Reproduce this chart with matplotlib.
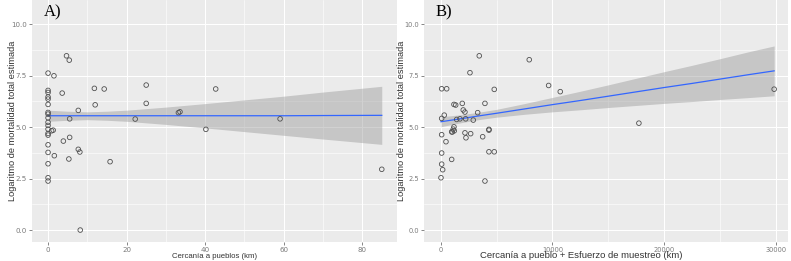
import numpy as np
import matplotlib.pyplot as plt

# Panel A: cercania a pueblos (km) vs log mortalidad
dist_a = [0, 0, 0, 0, 0, 0, 0, 0, 0, 0, 0, 0, 0, 0, 0, 0, 0, 0, 0,
          1.5, 4.7, 5.4, 3.6, 11.8, 14.3, 12.0, 7.7, 5.5, 25.0, 25.0, 22.2,
          33.2, 33.6, 42.7, 59.1, 40.2, 0.9, 1.3, 3.9, 5.5, 1.6, 7.7, 8.1,
          5.3, 15.8, 8.2, 85.0]
mort_a = [7.62, 6.78, 6.68, 6.46, 6.36, 6.10, 5.71, 5.63, 5.45, 5.23, 5.08,
          4.90, 4.69, 4.61, 4.14, 3.77, 3.22, 2.54, 2.38,
          7.49, 8.46, 8.25, 6.65, 6.88, 6.85, 6.08, 5.81, 5.40, 7.04, 6.15, 5.39,
          5.70, 5.74, 6.85, 5.40, 4.89, 4.82, 4.85, 4.32, 4.50, 3.61, 3.92, 3.79,
          3.45, 3.32, 0.00, 2.95]

# lm fit + 95% band
fit_x_a = [0, 5, 10, 15, 20, 30, 40, 50, 60, 70, 85]
fit_a = [5.55, 5.55, 5.55, 5.55, 5.55, 5.55, 5.55, 5.55, 5.55, 5.56, 5.57]
lo_a = [5.28, 5.33, 5.36, 5.33, 5.28, 5.13, 4.96, 4.78, 4.60, 4.42, 4.16]
hi_a = [5.82, 5.77, 5.74, 5.77, 5.82, 5.97, 6.14, 6.32, 6.50, 6.70, 6.98]

# Panel B: cercania a pueblo + esfuerzo de muestreo (km)
dist_b = [89, 537, 3453, 2621, 7925, 9660, 10700, 4794, 1190, 1342, 1932,
          3962, 2020, 2170, 3310, 322, 89, 1431, 1726, 2236, 2916, 1190,
          4320, 17737, 29840, 1127, 1038, 89, 2174, 2683, 2263, 3757, 4320,
          474, 89, 984, 4320, 4794, 89, 179, 27, 3962, 984, 1216]
mort_b = [6.86, 6.86, 8.46, 7.64, 8.27, 7.02, 6.72, 6.83, 6.10, 6.07, 6.15,
          6.15, 5.83, 5.73, 5.70, 5.58, 5.42, 5.37, 5.40, 5.40, 5.34, 5.01,
          4.89, 5.19, 6.84, 4.90, 4.76, 4.63, 4.72, 4.68, 4.48, 4.53, 4.85,
          4.29, 3.74, 3.43, 3.80, 3.80, 3.20, 2.93, 2.54, 2.38, 4.77, 4.82]

fit_x_b = [27, 2000, 3500, 5000, 7500, 10000, 12500, 15000, 17500, 20000,
           22500, 25000, 27500, 29840]
fit_b = [5.26, 5.42, 5.55, 5.67, 5.88, 6.09, 6.29, 6.50, 6.71, 6.92,
         7.12, 7.33, 7.54, 7.73]
lo_b = [5.02, 5.23, 5.37, 5.48, 5.62, 5.74, 5.84, 5.95, 6.05, 6.15,
        6.24, 6.34, 6.43, 6.52]
hi_b = [5.50, 5.61, 5.73, 5.86, 6.14, 6.44, 6.74, 7.05, 7.37, 7.69,
        8.00, 8.32, 8.65, 8.94]


def gg_panel(ax, x, y, fx, fy, lo, hi, xlim, xmajor, xminor, tag, tsize):
    ax.set_facecolor('#EBEBEB')
    for s in ax.spines.values():
        s.set_visible(False)
    ax.set_xlim(xlim)
    ax.set_ylim(-0.58, 11.17)
    ax.set_xticks(xmajor)
    ax.set_xticks(xminor, minor=True)
    ax.set_yticks([0, 2.5, 5, 7.5, 10])
    ax.set_yticks([1.25, 3.75, 6.25, 8.75], minor=True)
    ax.set_yticklabels(['0.0', '2.5', '5.0', '7.5', '10.0'])
    ax.grid(which='major', color='white', lw=0.75)
    ax.grid(which='minor', color='white', lw=0.4)
    ax.set_axisbelow(True)
    ax.tick_params(which='major', length=2, width=0.5, color='#555555',
                   labelsize=tsize, labelcolor='#7a7a7a', pad=1.5)
    ax.tick_params(which='minor', length=0)

    ax.fill_between(fx, lo, hi, color='#999999', alpha=0.45, lw=0, zorder=2)
    ax.plot(fx, fy, color='#3366FF', lw=0.9, zorder=3)
    ax.scatter(x, y, s=11, facecolors='none', edgecolors='#505050', lw=0.6, zorder=4)

    ax.text(0.033, 0.95, tag, transform=ax.transAxes, fontsize=12,
            family='Liberation Serif', va='center', ha='left', zorder=5)


fig = plt.figure(figsize=(7.91, 2.61), dpi=100)
ax1 = fig.add_axes([0.0405, 0.0728, 0.4615, 0.9272])
ax2 = fig.add_axes([0.536, 0.0728, 0.46, 0.9272])

gg_panel(ax1, dist_a, mort_a, fit_x_a, fit_a, lo_a, hi_a, (-4.08, 88.9),
         [0, 20, 40, 60, 80], [10, 30, 50, 70], 'A)', 5.1)
gg_panel(ax2, dist_b, mort_b, fit_x_b, fit_b, lo_b, hi_b, (-1494, 31064),
         [0, 10000, 20000, 30000], [5000, 15000, 25000], 'B)', 4.8)

lab = dict(color='#333333', family='Liberation Sans', va='center', ha='center')
fig.text(0.2718, 0.0175, 'Cercanía a pueblos (km)', fontsize=5.6, **lab)
fig.text(0.7345, 0.0195, 'Cercanía a pueblo + Esfuerzo de muestreo (km)', fontsize=6.8, **lab)
ylab = 'Logaritmo de mortalidad total estimada'
fig.text(0.0158, 0.536, ylab, fontsize=6.7, rotation=90, **lab)
fig.text(0.5082, 0.536, ylab, fontsize=6.7, rotation=90, **lab)

plt.savefig('out.png', dpi=100)
